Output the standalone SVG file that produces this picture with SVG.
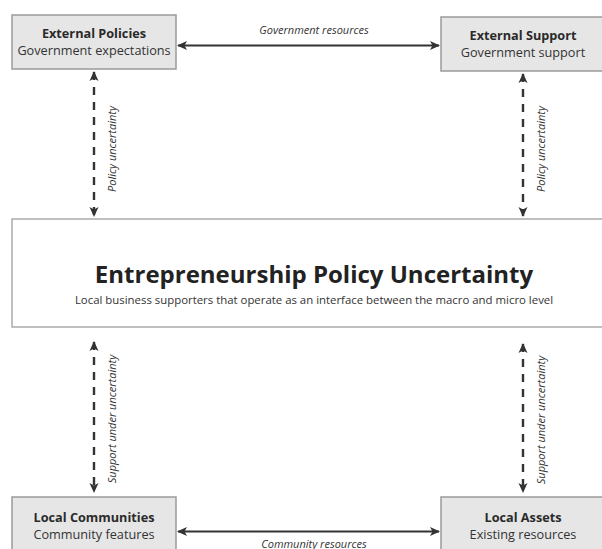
<svg xmlns="http://www.w3.org/2000/svg" width="602" height="549" viewBox="0 0 602 549">
  <defs>
    <marker id="head" viewBox="0 0 10 10" refX="9" refY="5" markerWidth="10" markerHeight="10" markerUnits="userSpaceOnUse" orient="auto-start-reverse">
      <path d="M0,0.5 L10,5 L0,9.5 L2.5,5 Z" fill="#333"/>
    </marker>
    <style>
      .box { fill: #e6e6e6; stroke: #9a9a9a; stroke-width: 1.5; }
      .core { fill: #ffffff; stroke: #aaaaaa; stroke-width: 1.5; }
      .t { font-family: "Open Sans", "Noto Sans", sans-serif; fill: #2a2a2a; text-anchor: middle; }
      .title { font-size: 12.7px; font-weight: 700; }
      .sub { font-size: 12.7px; fill: #333; }
      .big { font-size: 24px; font-weight: 700; fill: #222; }
      .desc { font-size: 11.4px; fill: #333; }
      .lbl { font-family: "Open Sans", "Noto Sans", sans-serif; font-size: 11px; font-style: italic; fill: #333; text-anchor: middle; }
      .solid { stroke: #333; stroke-width: 2.2; fill: none; }
      .dash { stroke: #333; stroke-width: 2.4; fill: none; stroke-dasharray: 8 7; }
    </style>
  </defs>

  <!-- connectors -->
  <g id="connectors">
    <line class="solid" x1="178" y1="45.5" x2="439" y2="45.5" marker-start="url(#head)" marker-end="url(#head)"/>
    <text class="lbl" x="314" y="34">Government resources</text>

    <line class="solid" x1="178" y1="531.5" x2="439" y2="531.5" marker-start="url(#head)" marker-end="url(#head)"/>
    <text class="lbl" x="314" y="548">Community resources</text>

    <line class="dash" x1="94" y1="72" x2="94" y2="216" marker-start="url(#head)" marker-end="url(#head)"/>
    <text class="lbl" transform="translate(116,149) rotate(-90)">Policy uncertainty</text>

    <line class="dash" x1="523" y1="74" x2="523" y2="216" marker-start="url(#head)" marker-end="url(#head)"/>
    <text class="lbl" transform="translate(545,149) rotate(-90)">Policy uncertainty</text>

    <line class="dash" x1="94" y1="342" x2="94" y2="492" marker-start="url(#head)" marker-end="url(#head)"/>
    <text class="lbl" transform="translate(116,419) rotate(-90)">Support under uncertainty</text>

    <line class="dash" x1="523" y1="344" x2="523" y2="492" marker-start="url(#head)" marker-end="url(#head)"/>
    <text class="lbl" transform="translate(545,420) rotate(-90)">Support under uncertainty</text>
  </g>

  <g id="external-policies">
    <rect class="box" x="12" y="15" width="164" height="54"/>
    <text class="t title" x="94" y="38">External Policies</text>
    <text class="t sub" x="94" y="55">Government expectations</text>
  </g>

  <g id="external-support">
    <rect class="box" x="441" y="17" width="170" height="54"/>
    <text class="t title" x="523" y="40">External Support</text>
    <text class="t sub" x="523" y="57">Government support</text>
  </g>

  <g id="policy-uncertainty">
    <rect class="core" x="12" y="219" width="610" height="108"/>
    <text class="t big" x="314" y="283">Entrepreneurship Policy Uncertainty</text>
    <text class="t desc" x="314" y="304">Local business supporters that operate as an interface between the macro and micro level</text>
  </g>

  <g id="local-communities">
    <rect class="box" x="12" y="497" width="164" height="60"/>
    <text class="t title" x="94" y="522">Local Communities</text>
    <text class="t sub" x="94" y="539">Community features</text>
  </g>

  <g id="local-assets">
    <rect class="box" x="441" y="497" width="170" height="60"/>
    <text class="t title" x="523" y="522">Local Assets</text>
    <text class="t sub" x="523" y="539">Existing resources</text>
  </g>
</svg>
